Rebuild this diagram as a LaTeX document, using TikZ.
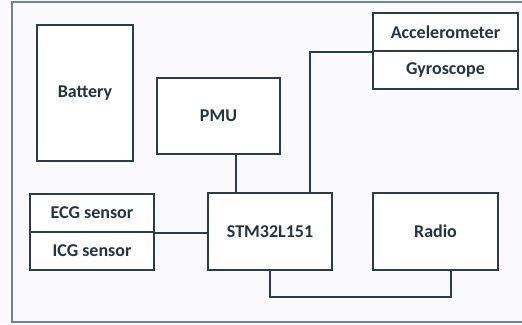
\documentclass[tikz,border=0pt]{standalone}
\usepackage{fontspec}
\setmainfont{Carlito}
\definecolor{boxline}{HTML}{2B3D47}
\definecolor{frameline}{HTML}{6B8694}
\definecolor{bgc}{HTML}{FAFAFC}
\begin{document}
\begin{tikzpicture}[x=1pt,y=1pt,
  blk/.style={draw=boxline, line width=1.6pt, fill=white, inner sep=0pt,
    font=\fontsize{18}{20}\selectfont\bfseries, text=boxline!85!black},
  wire/.style={draw=boxline, line width=1.5pt}]
\useasboundingbox (0,0) rectangle (522,-324);
\fill[bgc] (0,0) rectangle (522,-324);
\draw[frameline, line width=2.2pt] (522,-2) -- (12,-2) -- (12,-322) -- (522,-322);
\node[blk, minimum width=96pt, minimum height=136pt] (bat) at (85,-93) {Battery};
\node[blk, minimum width=123pt, minimum height=76pt] (pmu) at (218.5,-116) {PMU};
\node[blk, minimum width=145pt, minimum height=38pt] (acc) at (445.5,-32) {Accelerometer};
\node[blk, minimum width=145pt, minimum height=38pt] (gyr) at (445.5,-70) {Gyroscope};
\node[blk, minimum width=124pt, minimum height=38pt] (ecg) at (92,-213) {ECG sensor};
\node[blk, minimum width=124pt, minimum height=38pt] (icg) at (92,-251) {ICG sensor};
\node[blk, minimum width=124pt, minimum height=77pt] (stm) at (270,-231.5) {STM32L151};
\node[blk, minimum width=125pt, minimum height=77pt] (rad) at (435.5,-231.5) {Radio};
\draw[wire] ([xshift=17.5pt]pmu.south) -- ([xshift=-34pt]stm.north);
\draw[wire] ([xshift=40pt]stm.north) |- (acc.south west);
\draw[wire] (ecg.south east) -- (ecg.south east -| stm.west);
\draw[wire] (stm.south) -- ++(0,-26) -| ([xshift=15.5pt]rad.south);
\end{tikzpicture}
\end{document}
